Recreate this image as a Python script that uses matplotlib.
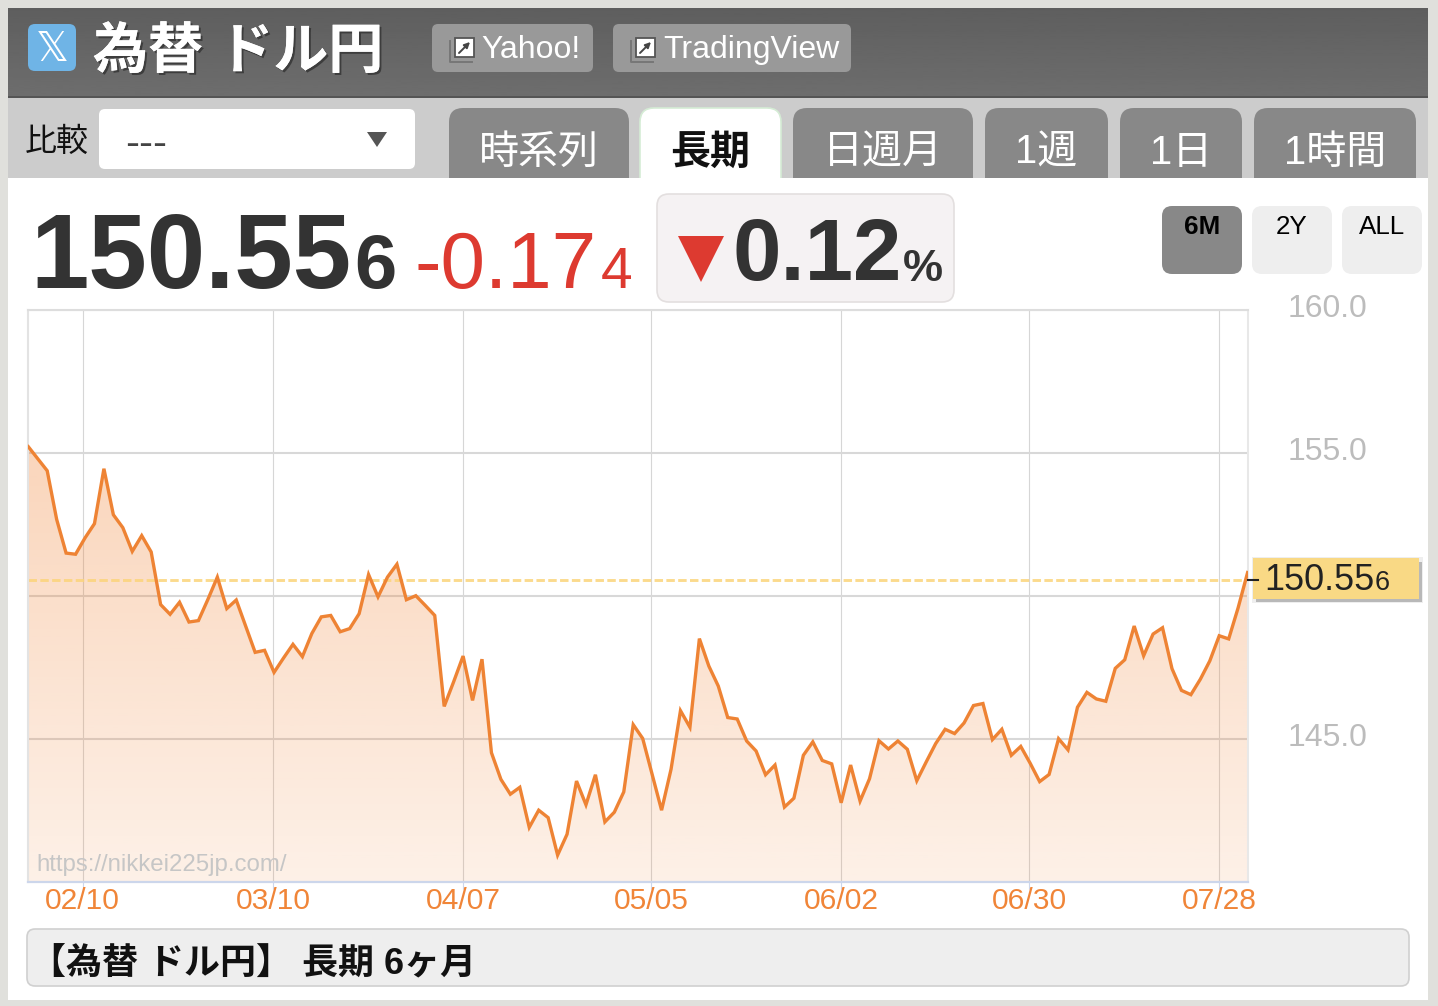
import numpy as np
import matplotlib
matplotlib.use("Agg")
import matplotlib.pyplot as plt
from matplotlib.patches import FancyBboxPatch, Polygon, Rectangle
from matplotlib.transforms import ScaledTranslation
import matplotlib.patheffects as pe

W, H = 1438, 1006
FONT = ["Liberation Sans", "Noto Sans CJK JP", "DejaVu Sans"]
plt.rcParams["font.family"] = FONT

# ---- data ----
prices = [
    155.22, 154.80, 154.38, 152.68, 151.50, 151.46, 152.03, 152.53, 154.45, 152.84,
    152.39, 151.56, 152.11, 151.54, 149.70, 149.36, 149.78, 149.09, 149.14, 149.88,
    150.66, 149.56, 149.86, 148.95, 148.03, 148.10, 147.33, 147.83, 148.31, 147.88,
    148.69, 149.27, 149.32, 148.75, 148.86, 149.38, 150.75, 149.97, 150.66, 151.11,
    149.87, 150.01, 149.67, 149.32, 146.14, 147.00, 147.90, 146.35, 147.79, 144.52,
    143.59, 143.07, 143.31, 141.91, 142.51, 142.25, 140.94, 141.67, 143.53, 142.70,
    143.75, 142.10, 142.44, 143.15, 145.50, 145.02, 143.76, 142.51, 143.94, 145.99,
    145.41, 148.51, 147.55, 146.85, 145.75, 145.70, 144.93, 144.58, 143.75, 144.09,
    142.62, 142.93, 144.43, 144.90, 144.25, 144.13, 142.77, 144.09, 142.83, 143.61,
    144.94, 144.65, 144.93, 144.64, 143.54, 144.20, 144.84, 145.34, 145.19, 145.56,
    146.17, 146.24, 144.98, 145.34, 144.43, 144.74, 144.15, 143.51, 143.76, 145.01,
    144.62, 146.11, 146.63, 146.40, 146.32, 147.47, 147.77, 148.95, 147.91, 148.67,
    148.89, 147.46, 146.70, 146.55, 147.09, 147.73, 148.61, 148.50, 149.59, 150.82,
]
current_price = 150.556
tick_index = [5.75, 25.92, 46, 65.9, 86, 105.9, 126]
tick_labels = ["02/10", "03/10", "04/07", "05/05", "06/02", "06/30", "07/28"]
y_ticks = [145.0, 150.0, 155.0, 160.0]
tab_names = ["時系列", "長期", "日週月", "1週", "1日", "1時間"]
range_names = ["6M", "2Y", "ALL"]

fig = plt.figure(figsize=(W / 100, H / 100), dpi=100, facecolor="#e0e0dc")


def overlay(z):
    a = fig.add_axes([0, 0, 1, 1], zorder=z)
    a.set_xlim(0, W)
    a.set_ylim(H, 0)
    a.axis("off")
    a.patch.set_alpha(0)
    return a


bg = overlay(0)
fg = overlay(3)


def box(a, x0, y0, x1, y1, r, fc, ec="none", lw=0, z=2):
    p = FancyBboxPatch((x0, y0), x1 - x0, y1 - y0, boxstyle=f"round,pad=0,rounding_size={r}",
                       fc=fc, ec=ec, lw=lw, zorder=z)
    a.add_patch(p)
    return p


def txt(a, x, y, s, px, color="#000", weight="normal", ha="left", va="baseline", z=5, **kw):
    return a.text(x, y, s, fontsize=px * 0.72, color=color, fontweight=weight, ha=ha, va=va,
                  zorder=z, family=FONT, **kw)


# ---- chrome ----
bg.imshow(np.linspace(0.37, 0.43, 64)[:, None], extent=(8, 1428, 97, 8), cmap="gray", vmin=0, vmax=1,
          aspect="auto", zorder=1)
bg.set_xlim(0, W)
bg.set_ylim(H, 0)
bg.add_patch(Rectangle((8, 97), 1420, 90, fc="#cccccc", ec="none", zorder=1))
bg.add_patch(Rectangle((8, 96), 1420, 2, fc="#555555", ec="none", zorder=1.5))

box(bg, 28, 24, 76, 71, 7, "#6fb4e6")
txt(bg, 52, 50, "\U0001D54F", 41, "#ffffff", ha="center", va="center").set_family("DejaVu Sans")
title = txt(bg, 93, 68, "為替 ドル円", 55, "#ffffff", "bold")
title.set_path_effects([pe.withSimplePatchShadow(offset=(1.5, -1.5), shadow_rgbFace="#333333", alpha=0.8), pe.Normal()])

for (x0, x1, tx, label) in [(432, 593, 481, "Yahoo!"), (613, 851, 663, "TradingView")]:
    box(bg, x0, 24, x1, 72, 6, "#999999")
    ix = x0 + 18
    bg.plot([ix, ix, ix + 22], [41, 62, 62], color="#777777", lw=1.4, zorder=3)
    bg.add_patch(Rectangle((ix + 5, 38), 19, 19, fc="#ffffff", ec="#555555", lw=1.3, zorder=3))
    bg.annotate("", xy=(ix + 20, 42), xytext=(ix + 9, 53), zorder=4,
                arrowprops=dict(arrowstyle="-|>", color="#444444", lw=1.4, mutation_scale=8, shrinkA=0, shrinkB=0))
    txt(bg, tx, 58, label, 32, "#ffffff")

txt(bg, 25, 151, "比較", 32, "#111111")
box(bg, 99, 109, 415, 169, 6, "#ffffff")
txt(bg, 125, 156, "---", 42, "#444444")
bg.add_patch(Polygon([[367, 132], [387, 132], [377, 147]], fc="#555555", ec="none", zorder=3))

tab_spans = [(449, 629), (640, 781), (793, 973), (985, 1108), (1120, 1242), (1254, 1416)]
for name, (x0, x1) in zip(tab_names, tab_spans):
    active = name == "長期"
    box(bg, x0, 108, x1, 205, 14, "#ffffff" if active else "#888888",
        ec="#d5ecd5" if active else "none", lw=1.2 if active else 0)
    txt(bg, (x0 + x1) / 2, 164, name, 40, "#111111" if active else "#ffffff",
        "bold" if active else "normal", ha="center")

bg.add_patch(Rectangle((8, 178), 1420, 822, fc="#ffffff", ec="none", zorder=2.5))

# headline numbers
txt(bg, 30, 288, "150.55", 105, "#333333", "bold")
txt(bg, 354, 288, "6", 76, "#333333", "bold")
txt(bg, 415, 288, "-0.17", 80, "#dd3a30")
txt(bg, 601, 288, "4", 57, "#dd3a30")
box(bg, 657, 194, 954, 302, 12, "#f5f2f3", ec="#e3dfdf", lw=1.2, z=3)
bg.add_patch(Polygon([[678, 236], [724, 236], [701, 282]], fc="#dd3a30", ec="none", zorder=4))
txt(bg, 732, 280, "0.12", 87, "#333333", "bold")
txt(bg, 903, 281, "%", 45, "#333333", "bold")

for name, (x0, x1) in zip(range_names, [(1162, 1242), (1252, 1332), (1342, 1422)]):
    on = name == "6M"
    box(bg, x0, 206, x1, 274, 10, "#888888" if on else "#eeeeee", z=3)
    txt(bg, (x0 + x1) / 2, 234, name, 26, "#000000", "bold" if on else "normal", ha="center")

# footer
box(bg, 27, 929, 1409, 986, 8, "#eeeeee", ec="#d0d0d0", lw=1.2, z=3)
txt(bg, 30, 974, "【為替 ドル円】 長期 6ヶ月", 36, "#111111", "bold")

# ---- chart ----
L, R, T, B = 28, 1248, 310, 882
ax = fig.add_axes([L / W, 1 - B / H, (R - L) / W, (B - T) / H], zorder=1)
ax.patch.set_alpha(0)
idx = np.arange(len(prices))
X0 = 28.3
STEP = (1247.6 - 28.3) / 129
ax.set_xlim((L - X0) / STEP, (R - X0) / STEP)
ax.set_ylim(140, 160)

ax.set_axisbelow(True)
ax.grid(axis="x", color="#d6d6d6", lw=0.8)
ax.grid(axis="y", color="#d8d8d8", lw=1.5)
ax.set_xticks(tick_index)
ax.set_xticklabels(tick_labels)
ax.set_yticks(y_ticks)
ax.set_yticklabels([f"{v:.1f}" for v in y_ticks])
ax.yaxis.tick_right()
ax.tick_params(axis="y", length=0, pad=57.6, labelsize=32 * 0.72, labelcolor="#bcbcbc")
ax.tick_params(axis="x", length=5, width=0.8, color="#ccd6eb", pad=-1.5, labelsize=30 * 0.72, labelcolor="#f08538")
for lab in ax.get_yticklabels():
    lab.set_ha("center")
    lab.set_transform(lab.get_transform() + ScaledTranslation(0, 4.5 / 100, fig.dpi_scale_trans))
for side, col, lw in [("top", "#dddddd", 1.5), ("left", "#e3e3e3", 1.5), ("right", "#e8e8e8", 1.5), ("bottom", "#ccd6eb", 1.6)]:
    ax.spines[side].set_color(col)
    ax.spines[side].set_linewidth(lw)

poly = ax.fill_between(idx, prices, 140, color="none", lw=0)
grad = np.zeros((256, 1, 4))
grad[..., :3] = matplotlib.colors.to_rgb("#f08030")
grad[..., 3] = np.linspace(0.33, 0.115, 256)[:, None]
im = ax.imshow(grad, extent=(ax.get_xlim()[0], ax.get_xlim()[1], 140, 155.3), origin="upper", aspect="auto", zorder=1.5)
im.set_clip_path(poly.get_paths()[0], transform=ax.transData)
ax.set_xlim((L - X0) / STEP, (R - X0) / STEP)
ax.set_ylim(140, 160)
ax.axhline(current_price, color="#fbd47a", lw=2.1, dashes=(2.9, 1.15), alpha=0.85, zorder=2)
ax.plot(idx, prices, color="#ee8334", lw=2.4, solid_joinstyle="miter", zorder=3)
fg.text(36, 865, "https://nikkei225jp.com/", fontsize=24 * 0.72, color="#c6c6c6", va="center", family=FONT, zorder=5)

# price tag
fg.add_patch(Rectangle((1252, 557), 171, 46, fc="#eeeeee", ec="none", zorder=1))
fg.add_patch(Rectangle((1256, 562), 166, 40, fc="#b8b8b8", ec="none", zorder=1.5))
fg.add_patch(Rectangle((1253, 558), 166, 41, fc="#f9d985", ec="none", zorder=2))
fg.plot([1248, 1258], [579.5, 579.5], color="#222222", lw=1.5, zorder=3)
txt(fg, 1264, 590, f"{current_price:.3f}"[:-1], 36, "#222222")
txt(fg, 1375, 590, f"{current_price:.3f}"[-1], 27, "#222222")

fig.savefig("out.png", dpi=100, facecolor=fig.get_facecolor())
